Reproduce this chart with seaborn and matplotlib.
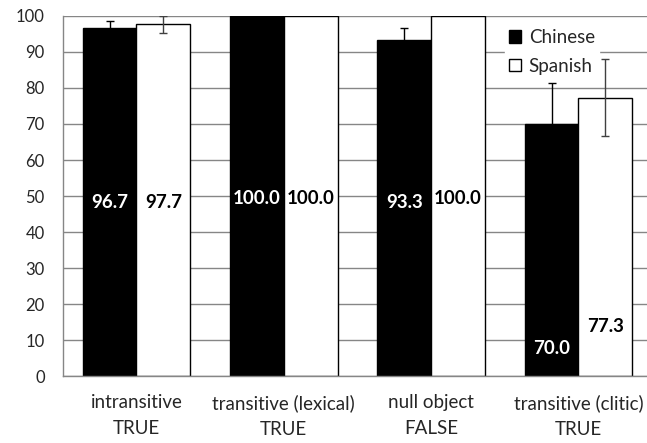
import pandas as pd
import matplotlib
import matplotlib.pyplot as plt
import seaborn as sns
from matplotlib.patches import Patch
from matplotlib.ticker import FixedLocator

matplotlib.use('Agg')

# --- Data ---
categories = ['intransitive\nTRUE', 'transitive (lexical)\nTRUE', 'null object\nFALSE', 'transitive (clitic)\nTRUE']
languages = ['Chinese', 'Spanish']
chinese = [96.7, 100.0, 93.3, 70.0]
spanish = [97.7, 100.0, 100.0, 77.3]
chinese_err = [1.9, 0.0, 3.4, 11.3]
spanish_err = [2.3, 0.0, 0.0, 10.7]
# where the value labels sit inside the bars (as in the original)
chinese_label_y = [48.1, 49.4, 48.1, 7.8]
spanish_label_y = [48.1, 49.4, 49.4, 13.9]

df = pd.DataFrame({
    'category': categories * 2,
    'language': ['Chinese'] * 4 + ['Spanish'] * 4,
    'value': chinese + spanish,
})

sns.set_style('white')
plt.rcParams['font.family'] = ['Lato', 'DejaVu Sans']

fig = plt.figure(figsize=(6.47, 4.43), dpi=100)
ax = fig.add_axes([0.097, 0.151, 0.911, 0.813])

sns.barplot(data=df, x='category', y='value', hue='language', order=categories,
            hue_order=languages, palette={'Chinese': 'black', 'Spanish': 'white'},
            edgecolor='black', linewidth=1.0, width=0.73, gap=0, errorbar=None,
            legend=False, ax=ax, zorder=2)

ax.set_ylim(0, 100)
ax.set_xlim(-0.5, 3.5)
ax.set_yticks(range(0, 101, 10))
ax.yaxis.grid(True, color='#868686', linewidth=1.0, zorder=0)
ax.set_axisbelow(True)

# bars come in hue order: first the four Chinese, then the four Spanish
bars = ax.patches
groups = [(bars[:4], chinese, chinese_err, chinese_label_y, 'white', 'black'),
          (bars[4:8], spanish, spanish_err, spanish_label_y, 'black', '#404040')]
for patches, vals, errs, label_y, txt_color, err_color in groups:
    for p, v, e, ly in zip(patches, vals, errs, label_y):
        cx = p.get_x() + p.get_width() / 2
        if e > 0:
            ax.errorbar(cx, v, yerr=e, fmt='none', ecolor=err_color,
                        elinewidth=1.0, capsize=3, capthick=1.0, zorder=3)
        ax.text(cx, ly, f'{v:.1f}', ha='center', va='center', fontsize=13.5,
                fontweight='bold', color=txt_color, zorder=4)

for s in ['top', 'right']:
    ax.spines[s].set_visible(False)
for s in ['left', 'bottom']:
    ax.spines[s].set_color('#868686')
    ax.spines[s].set_linewidth(1.0)

ax.set_xlabel('')
ax.set_ylabel('')
ax.tick_params(axis='y', which='major', length=5, color='#868686', labelsize=12, pad=8)
ax.tick_params(axis='x', which='major', length=0, labelsize=13.5, pad=13)
ax.xaxis.set_minor_locator(FixedLocator([-0.5, 0.5, 1.5, 2.5, 3.5]))
ax.tick_params(axis='x', which='minor', length=5, color='#868686', direction='out')
for lbl in ax.get_xticklabels():
    lbl.set_multialignment('center')
    lbl.set_linespacing(1.65)

handles = [Patch(facecolor='black', edgecolor='black', label='Chinese'),
           Patch(facecolor='white', edgecolor='black', label='Spanish')]
leg = ax.legend(handles=handles, loc='upper left', bbox_to_anchor=(0.735, 1.0),
                frameon=True, fontsize=13.5, handlelength=0.65, handleheight=0.65,
                handletextpad=0.4, labelspacing=0.62, borderpad=0.2, fancybox=False)
leg.get_frame().set_edgecolor('white')
leg.get_frame().set_facecolor('white')
leg.get_frame().set_alpha(1.0)
leg.set_zorder(5)

fig.savefig('out.png', dpi=100)
plt.close(fig)
